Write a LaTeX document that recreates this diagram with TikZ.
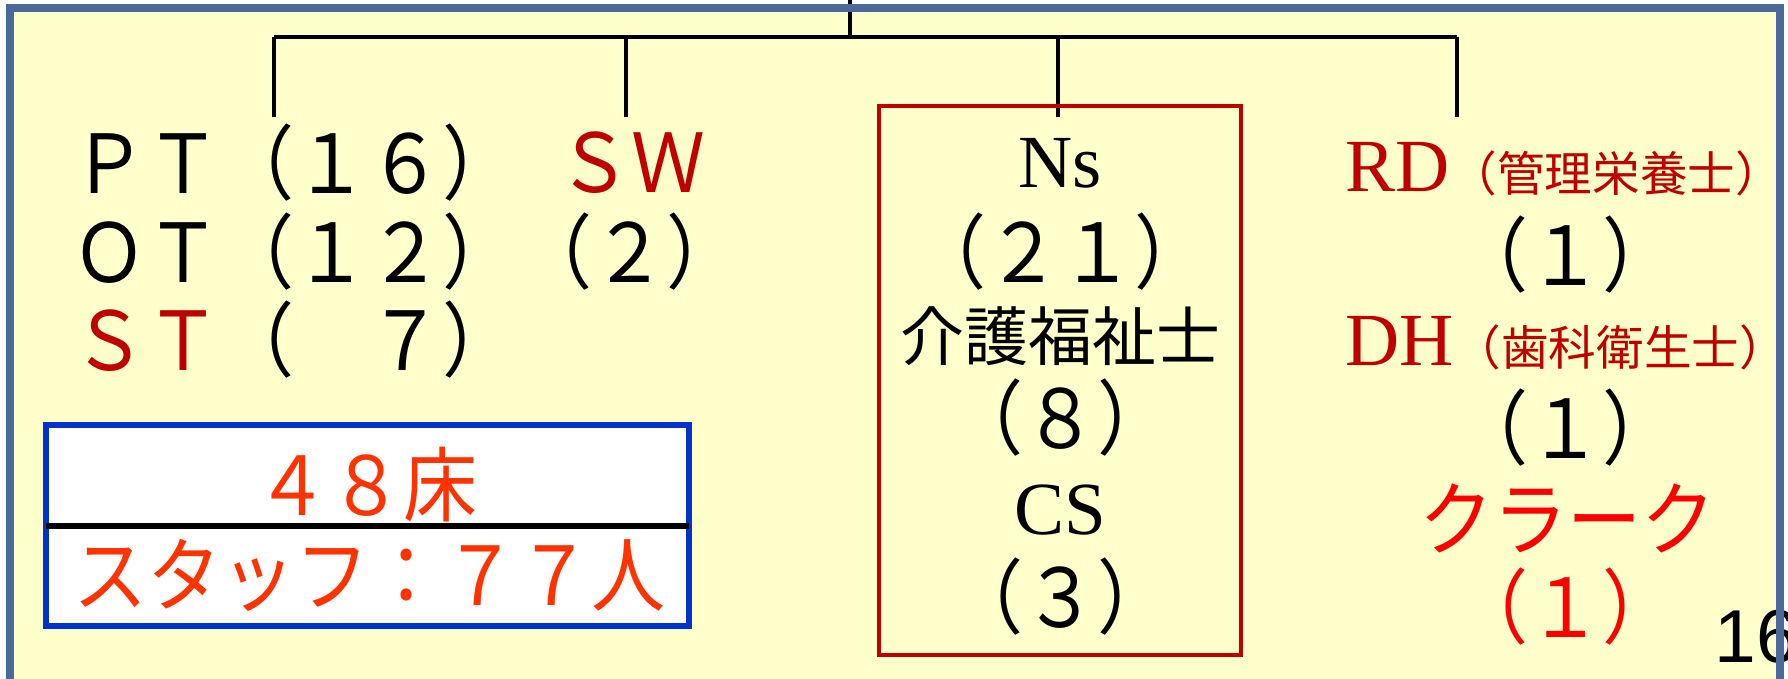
\documentclass[tikz,border=0pt]{standalone}
\usepackage{graphicx}
\usepackage{fontspec}
\newfontfamily\jp{Noto Sans CJK JP}
\newfontfamily\serifjp{Liberation Serif}
\newfontfamily\sansjp{Liberation Sans}
\definecolor{dred}{HTML}{C00000}
\definecolor{bred}{HTML}{FF0000}
\definecolor{orng}{HTML}{FF3300}
\definecolor{frameblue}{HTML}{4A6A9C}
\definecolor{paper}{HTML}{FFFFCC}
\definecolor{boxblue}{HTML}{0033CC}
\newcommand{\tallbox}[1]{\scalebox{1}[1.1]{#1}}
\newcommand{\smalljp}{\jp\fontsize{23.8}{26}\selectfont}
\tikzset{
  big/.style={inner sep=0, font=\jp\fontsize{37}{40}\selectfont},
  mid/.style={inner sep=0, font=\jp\fontsize{32}{36}\selectfont},
  serifbig/.style={inner sep=0, font=\serifjp\fontsize{37.5}{40}\selectfont},
  trunk/.style={line width=2.4, black},
  drop/.style={line width=1.8, black},
}
\begin{document}
\begin{tikzpicture}[x=0.5pt,y=-0.5pt]
\useasboundingbox (0,0) rectangle (1788,679);
\clip (0,0) rectangle (1788,679);
\fill[white] (0,0) rectangle (1788,679);
\fill[paper] (10,8) rectangle (1780,720);
% connectors
\coordinate (top) at (850,0);
\coordinate (hub) at (850,37);
\coordinate (c1) at (274,37);
\coordinate (c2) at (626,37);
\coordinate (c3) at (1058,37);
\coordinate (c4) at (1457,37);
\coordinate (e1) at (274,117);
\coordinate (e2) at (626,117);
\coordinate (e3) at (1058,117);
\coordinate (e4) at (1457,117);
\draw[trunk] (top) -- (hub);
\draw[trunk] (c1) -- (c4);
\draw[drop] (c1) -- (e1);
\draw[drop] (c2) -- (e2);
\draw[drop] (c3) -- (e3);
\draw[drop] (c4) -- (e4);
% left column
\node[big, anchor=west] (pt) at (72,162.5) {\tallbox{ＰＴ（１６）}};
\node[big, anchor=west] (ot) at (72,252) {\tallbox{ＯＴ（１２）}};
\node[big, anchor=west] (st) at (72,340) {\tallbox{\textcolor{dred}{ＳＴ}（　７）}};
\node[big, anchor=west, text=dred] (sw) at (557,162.5) {\tallbox{ＳＷ}};
\node[big, anchor=west] (sw2) at (518,252) {\tallbox{（２）}};
% bed box
\draw[boxblue, line width=3, fill=white] (46,425) rectangle (689,626);
\draw[black, line width=3] (46,526) -- (689,526);
\node[big, text=orng] (beds) at (366,485) {\tallbox{４８床}};
\node[big, text=orng] (staff) at (369,575) {\tallbox{スタッフ：７７人}};
% nurse box
\draw[dred, line width=2] (879,106) rectangle (1241,655);
\node[serifbig] (ns) at (1060,163) {Ns};
\node[big] (n21) at (1060,252) {\tallbox{（２１）}};
\node[mid] (kaigo) at (1060,336) {介護福祉士};
\node[big] (n8) at (1060,418) {\tallbox{（８）}};
\node[serifbig] (cs) at (1060,510) {CS};
\node[big] (n3) at (1060,597) {\tallbox{（３）}};
% right column
\node[serifbig, anchor=base west, text=dred] (rd) at (1345,192) {RD{\smalljp （管理栄養士）}};
\node[big] (r1) at (1565,255) {\tallbox{（１）}};
\node[serifbig, anchor=base west, text=dred] (dh) at (1345,365) {DH{\smalljp （歯科衛生士）}};
\node[big] (d1) at (1565,428) {\tallbox{（１）}};
\node[big, text=bred] (clerk) at (1567,518) {\tallbox{クラーク}};
\node[big, text=bred] (k1) at (1565,607) {\tallbox{（１）}};
% page number
\node[inner sep=0, anchor=base west, font=\sansjp\fontsize{37.5}{40}\selectfont] (pg) at (1714,662) {16};
% frame border
\draw[frameblue, line width=4] (10,720) -- (10,8) -- (1780,8) -- (1780,720);
\end{tikzpicture}
\end{document}
